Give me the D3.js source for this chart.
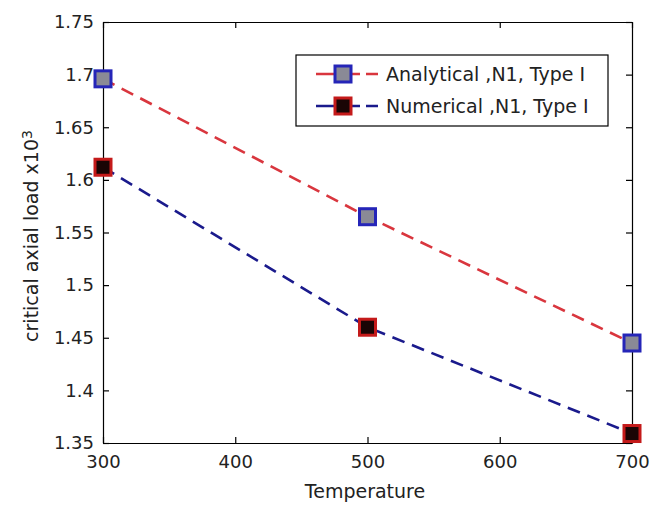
<!DOCTYPE html>
<html>
<head>
<meta charset="utf-8">
<script src="https://cdn.jsdelivr.net/npm/d3@7"></script>
<style>
  html, body { margin: 0; padding: 0; background: #fff; }
  svg { display: block; font-family: "DejaVu Sans", sans-serif; }
</style>
</head>
<body>
<svg id="chart" width="660" height="507"></svg>
<script>
// Temperatures on the x axis
const temperatures = [300, 500, 700];
// Critical axial load (x10^3) for each temperature
const analyticalLoad = [1.696, 1.565, 1.445];
const numericalLoad = [1.612, 1.460, 1.359];
// Axis ticks
const xTicks = [300, 400, 500, 600, 700];
const yTicks = [1.35, 1.4, 1.45, 1.5, 1.55, 1.6, 1.65, 1.7, 1.75];
// Legend labels
const seriesNames = ["Analytical ,N1, Type I", "Numerical ,N1, Type I"];

const svg = d3.select("#chart");
const plot = { left: 103, right: 632, top: 22, bottom: 443 };

const x = d3.scaleLinear().domain([300, 700]).range([plot.left, plot.right]);
const y = d3.scaleLinear().domain([1.35, 1.75]).range([plot.bottom, plot.top]);

const fontFamily = "'DejaVu Sans', sans-serif";
const tickFont = 18;
const labelFont = 19;

// Frame with inward ticks on all four sides
function styleAxis(g) {
  g.selectAll("path.domain").attr("stroke", "#000").attr("stroke-width", 1.2);
  g.selectAll(".tick line").attr("stroke", "#000").attr("stroke-width", 1.2);
  g.selectAll(".tick text").attr("fill", "#222").style("font-size", tickFont + "px")
    .style("font-family", fontFamily);
}

svg.append("g").attr("transform", `translate(0,${plot.bottom})`)
  .call(d3.axisBottom(x).tickValues(xTicks).tickFormat(d3.format("d"))
    .tickSizeInner(-6).tickSizeOuter(0).tickPadding(12))
  .call(styleAxis);

svg.append("g").attr("transform", `translate(${plot.left},0)`)
  .call(d3.axisLeft(y).tickValues(yTicks).tickFormat(d => String(+d.toFixed(2)))
    .tickSizeInner(-6).tickSizeOuter(0).tickPadding(9))
  .call(styleAxis);

svg.append("g").attr("transform", `translate(0,${plot.top})`)
  .call(d3.axisTop(x).tickValues(xTicks).tickFormat("")
    .tickSizeInner(-6).tickSizeOuter(0))
  .call(styleAxis);

svg.append("g").attr("transform", `translate(${plot.right},0)`)
  .call(d3.axisRight(y).tickValues(yTicks).tickFormat("")
    .tickSizeInner(-6).tickSizeOuter(0))
  .call(styleAxis);

// Series definitions
const series = [
  { name: seriesNames[0], values: analyticalLoad, line: "#d9363e", edge: "#2525b8", fill: "#8a8a96" },
  { name: seriesNames[1], values: numericalLoad, line: "#1a1a8c", edge: "#c41a1a", fill: "#1a0505" }
];

const lineGen = d3.line().x(d => x(d[0])).y(d => y(d[1]));
const markerSize = 16;

series.forEach(s => {
  const pts = temperatures.map((t, i) => [t, s.values[i]]);
  svg.append("path")
    .datum(pts)
    .attr("d", lineGen)
    .attr("fill", "none")
    .attr("stroke", s.line)
    .attr("stroke-width", 2.6)
    .attr("stroke-dasharray", "13,8");
  svg.append("g").selectAll("rect").data(pts).join("rect")
    .attr("x", d => x(d[0]) - markerSize / 2)
    .attr("y", d => y(d[1]) - markerSize / 2)
    .attr("width", markerSize).attr("height", markerSize)
    .attr("fill", s.fill)
    .attr("stroke", s.edge)
    .attr("stroke-width", 3);
});

// Legend
const legend = svg.append("g");
legend.append("rect")
  .attr("x", 296).attr("y", 55).attr("width", 312).attr("height", 71)
  .attr("fill", "#fff").attr("stroke", "#000").attr("stroke-width", 1.2);

const rowY = [74, 106];
series.forEach((s, i) => {
  const ry = rowY[i];
  legend.append("line")
    .attr("x1", 316).attr("x2", 378).attr("y1", ry).attr("y2", ry)
    .attr("stroke", s.line).attr("stroke-width", 2.6)
    .attr("stroke-dasharray", "20,6,18,6,18");
  legend.append("rect")
    .attr("x", 343 - markerSize / 2).attr("y", ry - markerSize / 2)
    .attr("width", markerSize).attr("height", markerSize)
    .attr("fill", s.fill).attr("stroke", s.edge).attr("stroke-width", 3);
  legend.append("text")
    .attr("x", 386).attr("y", ry).attr("dy", "0.36em")
    .attr("fill", "#222")
    .style("font-size", labelFont + "px")
    .style("font-family", fontFamily)
    .text(s.name);
});

// Axis titles
svg.append("text")
  .attr("x", 365).attr("y", 491).attr("dy", "0.36em")
  .attr("text-anchor", "middle").attr("fill", "#222")
  .style("font-size", labelFont + "px")
  .style("font-family", fontFamily)
  .text("Temperature");

const yTitle = svg.append("text")
  .attr("transform", "translate(31,236) rotate(-90)")
  .attr("text-anchor", "middle").attr("dy", "0.36em").attr("fill", "#222")
  .style("font-size", labelFont + "px")
  .style("font-family", fontFamily);
yTitle.append("tspan").text("critical axial load x10");
yTitle.append("tspan").attr("dy", "-0.45em").style("font-size", "14px").text("3");
</script>
</body>
</html>
